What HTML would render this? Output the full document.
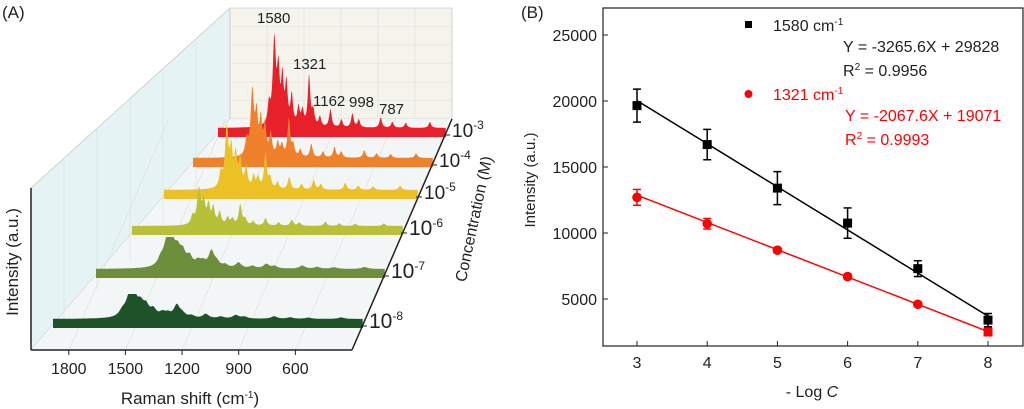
<!DOCTYPE html>
<html><head><meta charset="utf-8"><style>
html,body{margin:0;padding:0;background:#fff;}
svg{display:block;font-family:"Liberation Sans",sans-serif;}
</style></head><body>
<svg id="root" width="1024" height="409" viewBox="0 0 1024 409">
<g id="panelA"></g>
<g id="panelB"></g>
</svg>
<script>
// ---------- Panel A data ----------
const rowLabels = ["-3","-4","-5","-6","-7","-8"];
const rowScale = [100, 76, 70, 42, 32, 25];
const peakPos = [1620,1580,1550,1520,1490,1450,1400,1370,1321,1290,1240,1162,1080,998,950,787,700,600,420];
const peakHeight = [0.2,0.85,0.5,0.45,0.4,0.3,0.18,0.15,0.5,0.15,0.1,0.18,0.08,0.14,0.08,0.1,0.06,0.05,0.06];
const peakLabels = ["1580","1321","1162","998","787"];
// ---------- Panel B data ----------
const xCats = [3,4,5,6,7,8];
const black1580 = [19650,16700,13400,10750,7300,3400];
const blackErr = [1250,1150,1250,1150,600,500];
const red1321 = [12700,10700,8700,6700,4600,2500];
const redErr = [600,400,200,200,150,200];
const yTicks = [5000,10000,15000,20000,25000];
const fitBlack = [-3265.6, 29828];
const fitRed = [-2067.6, 19071];

const NS="http://www.w3.org/2000/svg";
function mk(tag, attrs, parent, name){const e=document.createElementNS(NS,tag);for(const k in attrs)e.setAttribute(k,attrs[k]);


parent.appendChild(e);return e;}

// ===== Panel A =====
const A=document.getElementById('panelA');
const t0=mk('text',{x:2,y:18,'font-size':17,fill:'#222'},A,'panel-a-label');t0.textContent='(A)';
mk('polygon',{points:'31,188 230,8 230,119 31,350',fill:'#e6f3f5',stroke:'#bbb','stroke-width':0.6},A,'left-wall');
mk('polygon',{points:'230,8 452,8 452,119 230,119',fill:'#f4f4ec',stroke:'#bbb','stroke-width':0.6},A,'back-wall');
mk('polygon',{points:'31,350 352,350 452,119 230,119',fill:'#f3f6f6'},A,'floor');
for(let i=1;i<6;i++){const y=8+i*18.5;mk('line',{x1:230,y1:y,x2:452,y2:y,stroke:'#ddd','stroke-width':0.6},A,'back-grid-h');}
for(let i=1;i<6;i++){const x=230+i*37;mk('line',{x1:x,y1:8,x2:x,y2:119,stroke:'#ddd','stroke-width':0.6},A,'back-grid-v');}
for(let i=1;i<6;i++){const x=31+i*33,y=188-i*30;mk('line',{x1:x,y1:y,x2:x,y2:y+162,stroke:'#d5e2e4','stroke-width':0.6},A,'left-grid-v');}
const ticksCm=[1800,1500,1200,900,600];
function floorX(cm){return 31+(2000-cm)/1700*321;}
ticksCm.forEach(c=>{const x=floorX(c);mk('line',{x1:x,y1:350,x2:x+100,y2:119,stroke:'#ddd','stroke-width':0.6},A,'floor-grid');
mk('line',{x1:x,y1:350,x2:x,y2:355,stroke:'#222','stroke-width':1},A,'x-tick');
const t=mk('text',{x:x,y:374,'font-size':16,'text-anchor':'middle',fill:'#222'},A,'x-tick-label');t.textContent=c;});
const rowGeom=[[218,446,131],[193,433,161],[164,418,193],[132,403,229],[96,385,272],[53,363,322]];
const colors=['#e8202a','#f0802a','#ecc125','#b7c036','#6d8f3c','#1e5229'];
function spec(cm,r){let s=0;for(let k=0;k<peakPos.length;k++){let w=(k===1?14:11)*(r>=4?1.8:1);s+=peakHeight[k]/(1+((cm-peakPos[k])/w)**2);}return s;}
for(let r=0;r<rowLabels.length;r++){
 const [x0,x1,yb]=rowGeom[r];
 let d=`M${x0},${yb+6}`;
 for(let cm=2000;cm>=300;cm-=3){const x=x0+(2000-cm)/1700*(x1-x0);const h=Math.min(spec(cm,r),1)*rowScale[r]+3;d+=` L${x.toFixed(1)},${(yb-h).toFixed(1)}`;}
 d+=` L${x1},${yb+6} Z`;
 mk('path',{d:d,fill:colors[r]},A,'spectrum-1e'+rowLabels[r]);
 mk('line',{x1:x1-2,y1:yb+4,x2:x1+4,y2:yb+4,stroke:'#222','stroke-width':1},A,'z-tick');
 const t=mk('text',{x:x1+6,y:yb+6,'font-size':r>=3?21:19,fill:'#222'},A,'concentration-label');
 t.innerHTML='10<tspan dy="-8" font-size="12">'+rowLabels[r]+'</tspan>';
}
mk('line',{x1:31,y1:188,x2:31,y2:350,stroke:'#222','stroke-width':1.5},A,'intensity-axis');
mk('line',{x1:31,y1:350,x2:352,y2:350,stroke:'#222','stroke-width':1.5},A,'raman-axis');
mk('line',{x1:352,y1:350,x2:452,y2:119,stroke:'#222','stroke-width':1.5},A,'concentration-axis');
const plx=[257,293,313,349,379],ply=[23,69,106,107,114];
peakLabels.forEach((p,i)=>{const t=mk('text',{x:plx[i],y:ply[i],'font-size':15,fill:'#222'},A,'peak-label-'+p);t.textContent=p;});
let t1=mk('text',{x:190,y:404,'font-size':17,'text-anchor':'middle',fill:'#222'},A,'x-axis-title');
t1.innerHTML='Raman shift (cm<tspan dy="-6" font-size="10">-1</tspan><tspan dy="6">)</tspan>';
t1=mk('text',{x:0,y:0,'font-size':17,'text-anchor':'middle',fill:'#222',transform:'translate(18,262) rotate(-90)'},A,'y-axis-title');t1.textContent='Intensity (a.u.)';
t1=mk('text',{x:0,y:0,'font-size':16,'text-anchor':'middle',fill:'#222',transform:'translate(479,220) rotate(-78)'},A,'z-axis-title');t1.textContent='Concentration (M)';

// ===== Panel B =====
const B=document.getElementById('panelB');
const L=603,R=1023,T=8,Bt=346;
function sx(v){return 637+(v-3)*70.2;}
function sy(v){return 365-v*0.0132;}
let tb=mk('text',{x:521,y:18,'font-size':17,fill:'#222'},B,'panel-b-label');tb.textContent='(B)';
mk('rect',{x:L,y:T,width:R-L,height:Bt-T,fill:'none',stroke:'#222','stroke-width':1.2},B,'plot-frame');
yTicks.forEach(v=>{const y=sy(v);mk('line',{x1:L,y1:y,x2:L+5,y2:y,stroke:'#222'},B,'y-tick');
const t=mk('text',{x:L-6,y:y+6,'font-size':16,'text-anchor':'end',fill:'#222'},B,'y-tick-label');t.textContent=v;});
xCats.forEach(v=>{const x=sx(v);mk('line',{x1:x,y1:Bt,x2:x,y2:Bt-5,stroke:'#222'},B,'x-tick');
const t=mk('text',{x:x,y:368,'font-size':16,'text-anchor':'middle',fill:'#222'},B,'x-tick-label');t.textContent=v;});
tb=mk('text',{x:812,y:397,'font-size':16,'text-anchor':'middle',fill:'#222'},B,'x-axis-title');tb.innerHTML='- Log <tspan font-style="italic">C</tspan>';
tb=mk('text',{x:0,y:0,'font-size':15,'text-anchor':'middle',fill:'#222',transform:'translate(535,180) rotate(-90)'},B,'y-axis-title');tb.textContent='Intensity (a.u.)';
function series(vals,errs,fit,col,shape,nm){
 mk('line',{x1:sx(3),y1:sy(fit[0]*3+fit[1]),x2:sx(8),y2:sy(fit[0]*8+fit[1]),stroke:col,'stroke-width':1.5},B,nm+'-fit-line');
 vals.forEach((v,i)=>{const x=sx(xCats[i]);const e=errs[i];
  mk('line',{x1:x,y1:sy(v+e),x2:x,y2:sy(v-e),stroke:col,'stroke-width':1.5},B,nm+'-error-bar');
  mk('line',{x1:x-4,y1:sy(v+e),x2:x+4,y2:sy(v+e),stroke:col,'stroke-width':1.5},B,nm+'-error-cap');
  mk('line',{x1:x-4,y1:sy(v-e),x2:x+4,y2:sy(v-e),stroke:col,'stroke-width':1.5},B,nm+'-error-cap');
  if(shape==='sq'||i===5)mk('rect',{x:x-4.5,y:sy(v)-4.5,width:9,height:9,fill:col},B,nm+'-point');
  else mk('circle',{cx:x,cy:sy(v),r:4.8,fill:col},B,nm+'-point');});
}
series(black1580,blackErr,fitBlack,'#000','sq','series-1580');
series(red1321,redErr,fitRed,'#f00','ci','series-1321');
mk('rect',{x:745,y:21,width:7,height:7,fill:'#000'},B,'legend-marker-1580');
tb=mk('text',{x:773,y:31,'font-size':16,fill:'#222'},B,'legend-1580');tb.innerHTML='1580 cm<tspan dy="-6" font-size="10">-1</tspan>';
tb=mk('text',{x:843,y:52,'font-size':16,fill:'#222'},B,'equation-1580');tb.textContent='Y = -3265.6X + 29828';
tb=mk('text',{x:843,y:76,'font-size':16,fill:'#222'},B,'r2-1580');tb.innerHTML='R<tspan dy="-6" font-size="10">2</tspan><tspan dy="6"> = 0.9956</tspan>';
mk('circle',{cx:748.5,cy:94,r:4,fill:'#f00'},B,'legend-marker-1321');
tb=mk('text',{x:773,y:100,'font-size':16,fill:'#f00'},B,'legend-1321');tb.innerHTML='1321 cm<tspan dy="-6" font-size="10">-1</tspan>';
tb=mk('text',{x:845,y:121,'font-size':16,fill:'#f00'},B,'equation-1321');tb.textContent='Y = -2067.6X + 19071';
tb=mk('text',{x:845,y:145,'font-size':16,fill:'#f00'},B,'r2-1321');tb.innerHTML='R<tspan dy="-6" font-size="10">2</tspan><tspan dy="6"> = 0.9993</tspan>';
</script>
</body></html>
